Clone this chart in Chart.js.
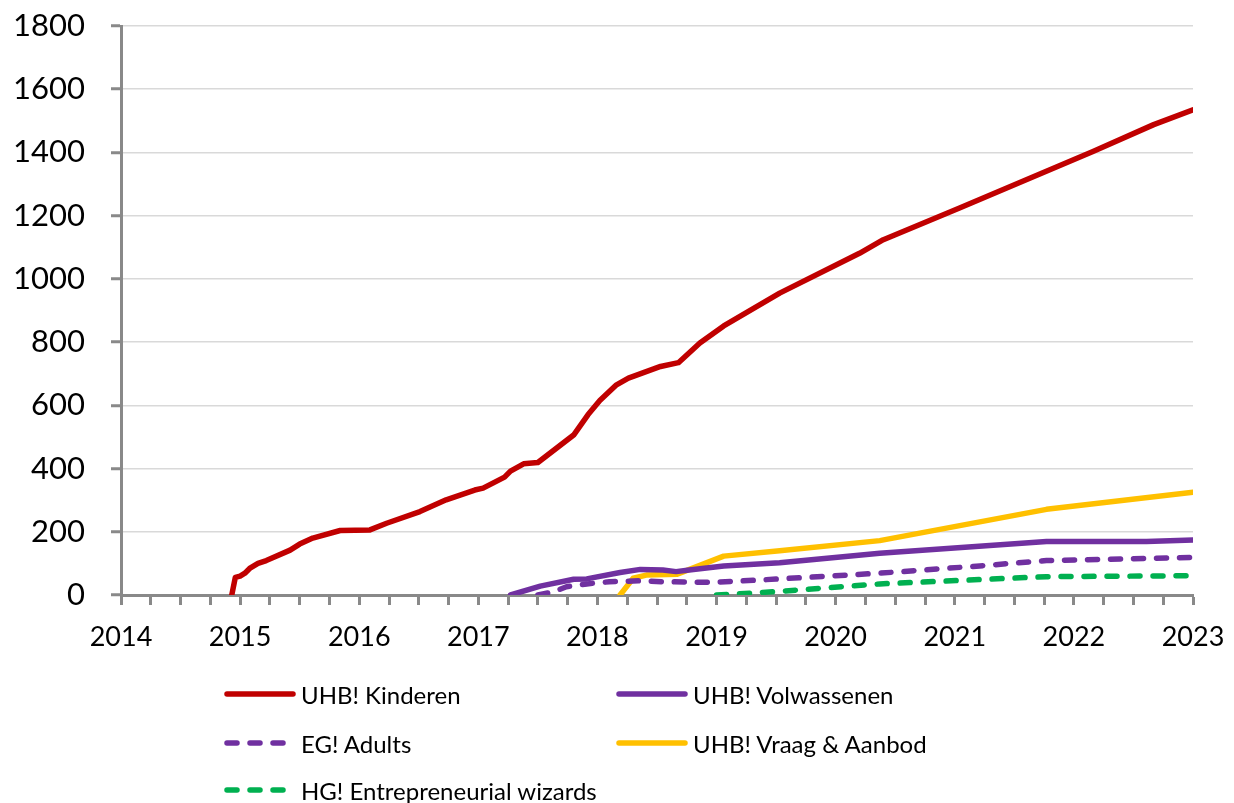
<!DOCTYPE html>
<html>
<head>
<meta charset="utf-8">
<script src="https://cdn.jsdelivr.net/npm/chart.js@4/dist/chart.umd.min.js"></script>
<style>
  html, body { margin: 0; padding: 0; background: #fff; }
  #wrap { position: relative; width: 1234px; height: 803px; }
  #legend { position: absolute; left: 0; top: 0; width: 1234px; height: 803px; pointer-events: none;
            font-family: Lato, "Liberation Sans", sans-serif; font-size: 24px; color: #000; }
  .item { position: absolute; display: flex; align-items: center; height: 30px; }
  .item svg { display: block; margin-right: 5px; }
</style>
</head>
<body>
<div id="wrap">
  <canvas id="chart" width="1234" height="803"></canvas>
  <div id="legend"></div>
</div>
<script>
// decimal years on x, counts on y
const kinderenX = [2014.93, 2014.96, 2015.0, 2015.04, 2015.08, 2015.15, 2015.22, 2015.42, 2015.50, 2015.61, 2015.84,
                   2016.09, 2016.23, 2016.51, 2016.73, 2016.97, 2017.04, 2017.22, 2017.27, 2017.38, 2017.50, 2017.80,
                   2017.92, 2018.02, 2018.16, 2018.26, 2018.53, 2018.68, 2018.86, 2019.06, 2019.53, 2020.20, 2020.40,
                   2021.04, 2022.16, 2022.67, 2023.0];
const kinderenY = [0, 56, 60, 69, 84, 100, 109, 142, 161, 180, 204,
                   206, 227, 264, 301, 332, 338, 373, 392, 415, 419, 506,
                   570, 615, 665, 686, 723, 735, 797, 851, 955, 1081, 1124,
                   1224, 1403, 1488, 1535];

const volwassenenX = [2017.27, 2017.52, 2017.80, 2017.91, 2018.19, 2018.36, 2018.55, 2018.66, 2018.77, 2019.06, 2019.53,
                      2020.37, 2021.77, 2022.61, 2023.0];
const volwassenenY = [0, 28, 50, 51, 71, 81, 79, 74, 79, 92, 102, 132, 169, 169, 174];

const adultsX = [2017.50, 2017.63, 2017.74, 2017.91, 2018.10, 2018.36, 2018.55, 2018.95, 2019.34, 2020.37, 2021.21, 2021.77, 2023.0];
const adultsY = [0, 10, 26, 35, 42, 45, 42, 40, 47, 69, 92, 109, 119];

const vraagX = [2018.19, 2018.30, 2018.41, 2018.67, 2019.06, 2019.53, 2020.37, 2021.77, 2023.0];
const vraagY = [0, 53, 63, 66, 123, 140, 172, 271, 325];

const wizardsX = [2019.0, 2019.47, 2020.37, 2021.77, 2023.0];
const wizardsY = [0, 10, 35, 58, 61];

const seriesLabels = ['UHB! Kinderen', 'UHB! Volwassenen', 'EG! Adults', 'UHB! Vraag & Aanbod', 'HG! Entrepreneurial wizards'];
const seriesColors = ['#C00000', '#7030A0', '#7030A0', '#FFC000', '#00B050'];
const dashed = [false, false, true, false, true];

function pts(xs, ys) {
    return xs.map(function (x, i) { return { x: x, y: ys[i] }; });
}

const allData = [pts(kinderenX, kinderenY), pts(volwassenenX, volwassenenY), pts(adultsX, adultsY),
                 pts(vraagX, vraagY), pts(wizardsX, wizardsY)];

const datasets = allData.map(function (d, i) {
    return {
        label: seriesLabels[i],
        data: d,
        borderColor: seriesColors[i],
        backgroundColor: seriesColors[i],
        borderWidth: 5.5,
        borderDash: dashed[i] ? [10, 13] : [],
        borderCapStyle: 'round',
        borderJoinStyle: 'round',
        pointRadius: 0,
        tension: 0,
        showLine: true,
        fill: false
    };
});

const axisGrey = '#898989';
const ctx = document.getElementById('chart').getContext('2d');
const chart = new Chart(ctx, {
    type: 'scatter',
    data: { datasets: datasets },
    options: {
        responsive: false,
        animation: false,
        devicePixelRatio: 1,
        layout: { padding: { left: 0, right: 41, top: 26, bottom: 148 } },
        plugins: { legend: { display: false }, tooltip: { enabled: false } },
        scales: {
            x: {
                type: 'linear',
                min: 2014,
                max: 2023,
                afterFit: function (scale) {
                    scale.height = 60;
                    scale.paddingLeft = 0;
                    scale.paddingRight = 0;
                },
                border: { color: axisGrey, width: 3 },
                grid: { drawOnChartArea: false, drawTicks: true, tickLength: 10, tickWidth: 3, tickColor: axisGrey },
                ticks: {
                    stepSize: 0.25,
                    autoSkip: false,
                    maxRotation: 0,
                    padding: 16,
                    color: '#000',
                    font: { family: 'Lato', size: 27 },
                    callback: function (v) {
                        return Math.abs(v - Math.round(v)) < 1e-6 ? String(Math.round(v)) : '';
                    }
                }
            },
            y: {
                min: 0,
                max: 1800,
                afterFit: function (scale) {
                    scale.width = 121;
                    scale.paddingTop = 0;
                    scale.paddingBottom = 0;
                },
                border: { color: axisGrey, width: 3 },
                grid: { color: '#D9D9D9', lineWidth: 1.5, tickLength: 10, tickWidth: 3, tickColor: axisGrey },
                ticks: {
                    stepSize: 200,
                    padding: 26,
                    color: '#000',
                    font: { family: 'Lato', size: 31 },
                    callback: function (v) { return String(v); }
                }
            }
        }
    }
});

// legend in two columns like the original
const legendPos = [[224, 694], [616, 694], [224, 743], [616, 743], [224, 790]];
const legendEl = document.getElementById('legend');
chart.data.datasets.forEach(function (ds, i) {
    const item = document.createElement('div');
    item.className = 'item';
    item.style.left = legendPos[i][0] + 'px';
    item.style.top = (legendPos[i][1] - 15) + 'px';
    const dash = ds.borderDash.length ? ' stroke-dasharray="10 13"' : '';
    item.innerHTML = '<svg width="72" height="10"><line x1="3" y1="5" x2="69" y2="5" stroke="' + ds.borderColor +
        '" stroke-width="5.5" stroke-linecap="round"' + dash + '/></svg><span>' + ds.label.replace('&', '&amp;') + '</span>';
    legendEl.appendChild(item);
});
</script>
</body>
</html>
